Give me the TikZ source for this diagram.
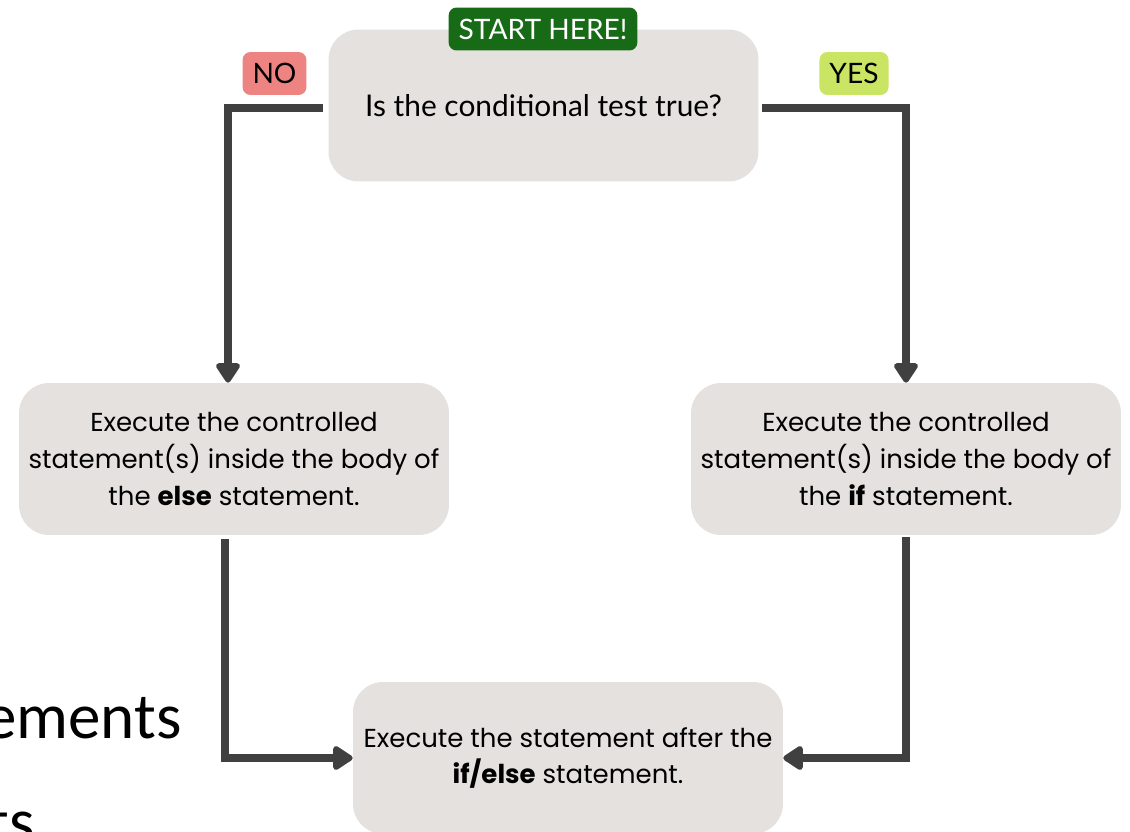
\documentclass[tikz,border=0pt]{standalone}
\usepackage{fontspec}
\setmainfont{Poppins}
\newfontfamily\tagfont{Lato}
\newfontfamily\slidefont{Carlito}
\usetikzlibrary{arrows.meta}

\definecolor{boxgray}{RGB}{228,225,223}
\definecolor{startgreen}{RGB}{23,107,23}
\definecolor{nored}{RGB}{238,132,130}
\definecolor{yesgreen}{RGB}{202,228,100}
\definecolor{linegray}{RGB}{64,64,64}

\tikzset{
    stepbox/.style={fill=boxgray, rounded corners=0.6cm, minimum width=8.6cm,
        minimum height=3.04cm, align=center, font=\fontsize{14.8}{21}\selectfont},
    tag/.style={rounded corners=0.16cm, minimum height=0.86cm, inner xsep=0.2cm,
        font=\tagfont\fontsize{16}{18}\selectfont},
    flow/.style={draw=linegray, line width=4pt,
        -{Triangle[length=0.44cm, width=0.54cm, round]}}
}

\begin{document}
\begin{tikzpicture}[x=0.02cm, y=-0.02cm]
    \useasboundingbox (0,0) rectangle (1130,832);

    % slide text behind the diagram
    \node[anchor=base east, inner sep=0, font=\slidefont\fontsize{37}{44}\selectfont] (w1) at (182,738) {ements};
    \node[anchor=base east, inner sep=0, font=\slidefont\fontsize{37}{44}\selectfont] (w2) at (35,843) {ts};

    % boxes
    \node[stepbox, font=\tagfont\fontsize{17}{21}\selectfont] (test) at (543.5,105.5) {Is the conditional test true?};
    \node[stepbox] (elsebox) at (234,459) {Execute the controlled\\statement(s) inside the body of\\the \textbf{else} statement.};
    \node[stepbox] (ifbox) at (906,459) {Execute the controlled\\statement(s) inside the body of\\the \textbf{if} statement.};
    \node[stepbox] (after) at (568,758) {Execute the statement after the\\\textbf{if/else} statement.};

    % tags
    \node[tag, fill=startgreen, text=white] (start) at (543,29) {START HERE!};
    \node[tag, fill=nored] (no) at (274.5,73.5) {NO};
    \node[tag, fill=yesgreen] (yes) at (854,73.5) {YES};

    % connectors
    \coordinate (noend) at (323,108);
    \coordinate (yesend) at (762,108);
    \draw[flow] (noend) -| ([xshift=-0.12cm]elsebox.north);
    \draw[flow] (yesend) -| (ifbox.north);
    \draw[flow] ([xshift=-0.18cm, yshift=-0.08cm]elsebox.south) |- (after.west);
    \draw[flow] ([yshift=-0.04cm]ifbox.south) |- (after.east);
\end{tikzpicture}
\end{document}
